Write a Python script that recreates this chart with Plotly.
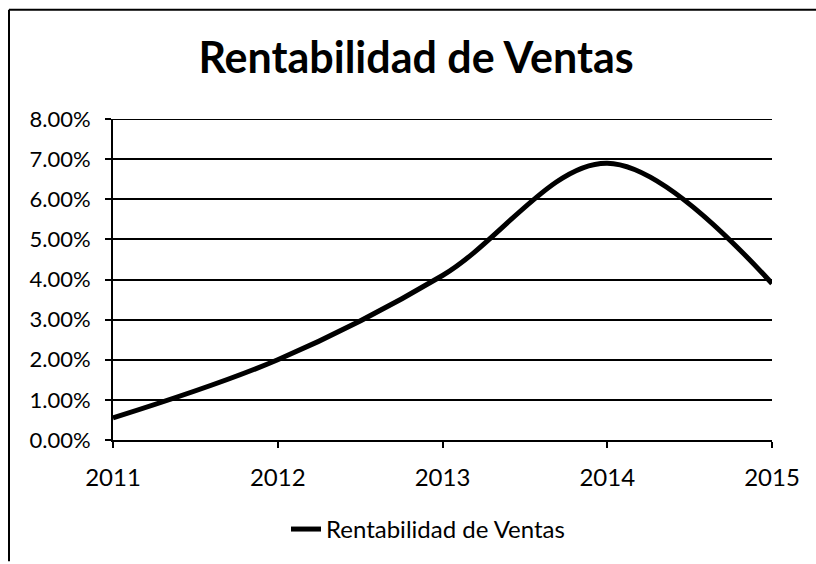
import plotly.graph_objects as go

years = [2011, 2012, 2013, 2014, 2015]
rentabilidad = [0.0055, 0.0200, 0.0410, 0.0690, 0.0390]
y_ticks = [0, 0.01, 0.02, 0.03, 0.04, 0.05, 0.06, 0.07, 0.08]
series_name = "Rentabilidad de Ventas"
title_text = "Rentabilidad de Ventas"

W, H = 816, 564
L, R, T, B = 113, 44, 119, 122
pw, ph = W - L - R, H - T - B

def px_x(p):
    return (p - L) / pw

def px_y(p):
    return (H - B - p) / ph

fig = go.Figure()
fig.add_trace(go.Scatter(
    x=years, y=rentabilidad, mode="lines", name=series_name,
    line=dict(color="black", width=5, shape="spline", smoothing=1.0),
    cliponaxis=False,
))

fig.update_layout(
    width=W, height=H,
    margin=dict(l=L, r=R, t=T, b=B),
    paper_bgcolor="white", plot_bgcolor="white",
    font=dict(family="Lato", color="black", size=22),
    title=dict(text="<b>" + title_text + "</b>", x=416 / W, xanchor="center",
               y=1 - 58 / H, yanchor="middle", font=dict(size=43, family="Lato")),
    showlegend=True,
    legend=dict(orientation="h", x=px_x(428), xanchor="center", y=px_y(532), yanchor="middle",
                font=dict(size=24), bgcolor="rgba(0,0,0,0)"),
    xaxis=dict(range=[2011, 2015], tickvals=years, ticktext=[str(y) for y in years],
               showgrid=False, zeroline=False, showline=True, linecolor="black", linewidth=2,
               ticks="outside", ticklen=6, tickwidth=2, tickcolor="black",
               ticklabelstandoff=9, tickfont=dict(size=24)),
    yaxis=dict(range=[0, 0.08], tickvals=y_ticks, tickformat=".2%",
               showgrid=True, gridcolor="black", gridwidth=2, zeroline=False,
               showline=True, linecolor="black", linewidth=2,
               ticks="outside", ticklen=6, tickwidth=2, tickcolor="black",
               ticklabelstandoff=10, tickfont=dict(size=22)),
)

# top gridline at the maximum tick
fig.add_shape(type="line", xref="paper", yref="y", layer="below",
              x0=0, x1=1, y0=y_ticks[-1], y1=y_ticks[-1],
              line=dict(color="black", width=2))

# outer chart frame (top and left edges visible)
fig.add_shape(type="line", xref="paper", yref="paper",
              x0=px_x(9), x1=px_x(816), y0=px_y(9), y1=px_y(9),
              line=dict(color="black", width=2))
fig.add_shape(type="line", xref="paper", yref="paper",
              x0=px_x(9), x1=px_x(9), y0=px_y(9), y1=px_y(564),
              line=dict(color="black", width=2))

fig.write_html("out.html", config={"displayModeBar": False},
               post_script="document.body.style.margin='0';document.body.style.overflow='hidden';")
